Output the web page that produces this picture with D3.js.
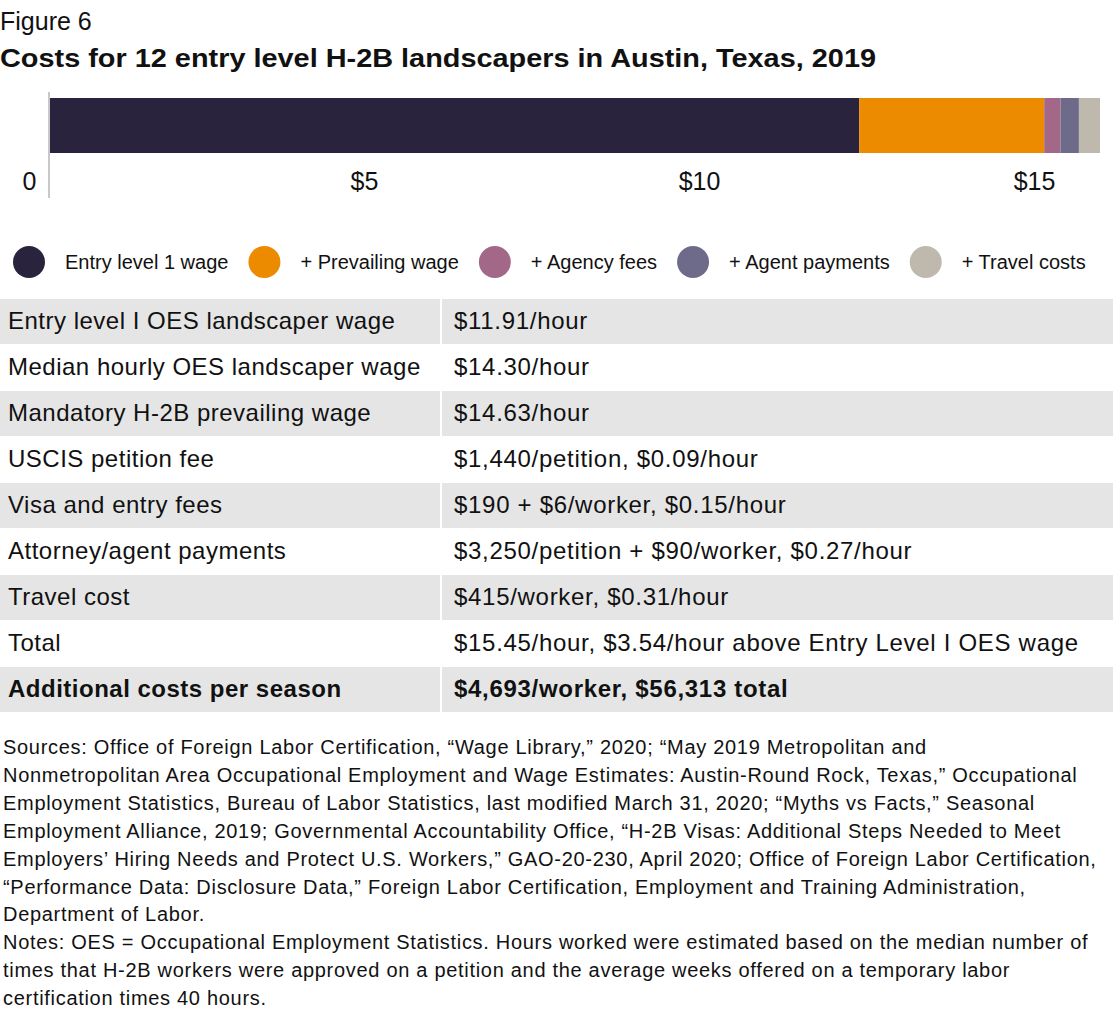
<!DOCTYPE html>
<html>
<head>
<meta charset="utf-8">
<script src="https://cdn.jsdelivr.net/npm/d3@7"></script>
<style>
  html, body { margin: 0; padding: 0; background: #fff; }
  svg { display: block; font-family: "Liberation Sans", Arial, sans-serif; }
</style>
</head>
<body>
<svg id="chart" width="1120" height="1018"></svg>
<script>
// ---------- data ----------
const figureLabel = "Figure 6";
const title = "Costs for 12 entry level H-2B landscapers in Austin, Texas, 2019";

const segmentNames = ["Entry level 1 wage", "+ Prevailing wage", "+ Agency fees", "+ Agent payments", "+ Travel costs"];
const segmentValues = [11.91, 2.72, 0.24, 0.27, 0.31];   // $/hour, stacked
const segmentColors = ["#29233d", "#ec8a00", "#a36787", "#6e6a8a", "#bfb8ac"];

const tickValues = [0, 5, 10, 15];
const tickLabels = ["0", "$5", "$10", "$15"];

const tableLabels = [
  "Entry level I OES landscaper wage",
  "Median hourly OES landscaper wage",
  "Mandatory H-2B prevailing wage",
  "USCIS petition fee",
  "Visa and entry fees",
  "Attorney/agent payments",
  "Travel cost",
  "Total",
  "Additional costs per season"
];
const tableValues = [
  "$11.91/hour",
  "$14.30/hour",
  "$14.63/hour",
  "$1,440/petition, $0.09/hour",
  "$190 + $6/worker, $0.15/hour",
  "$3,250/petition + $90/worker, $0.27/hour",
  "$415/worker, $0.31/hour",
  "$15.45/hour, $3.54/hour above Entry Level I OES wage",
  "$4,693/worker, $56,313 total"
];

const noteLines = [
  "Sources: Office of Foreign Labor Certification, “Wage Library,” 2020; “May 2019 Metropolitan and",
  "Nonmetropolitan Area Occupational Employment and Wage Estimates: Austin-Round Rock, Texas,” Occupational",
  "Employment Statistics, Bureau of Labor Statistics, last modified March 31, 2020; “Myths vs Facts,” Seasonal",
  "Employment Alliance, 2019; Governmental Accountability Office, “H-2B Visas: Additional Steps Needed to Meet",
  "Employers’ Hiring Needs and Protect U.S. Workers,” GAO-20-230, April 2020; Office of Foreign Labor Certification,",
  "“Performance Data: Disclosure Data,” Foreign Labor Certification, Employment and Training Administration,",
  "Department of Labor.",
  "Notes: OES = Occupational Employment Statistics. Hours worked were estimated based on the median number of",
  "times that H-2B workers were approved on a petition and the average weeks offered on a temporary labor",
  "certification times 40 hours."
];

// ---------- drawing ----------
const svg = d3.select("#chart");
const textColor = "#111";

svg.append("text").attr("x", 0).attr("y", 30)
  .attr("font-size", 25).attr("fill", textColor).text(figureLabel);

svg.append("text").attr("x", 0).attr("y", 67)
  .attr("font-size", 26).attr("font-weight", "bold").attr("fill", textColor)
  .attr("textLength", 876).attr("lengthAdjust", "spacingAndGlyphs")
  .text(title);

// stacked bar
const total = d3.sum(segmentValues);
const x = d3.scaleLinear().domain([0, total]).range([49, 1100]);
const stacked = [];
let acc = 0;
segmentValues.forEach((v, i) => { stacked.push({ name: segmentNames[i], x0: acc, x1: acc + v, color: segmentColors[i] }); acc += v; });

const barTop = 98, barH = 55;
svg.append("g").selectAll("rect").data(stacked).join("rect")
  .attr("x", d => x(d.x0))
  .attr("y", barTop)
  .attr("width", d => x(d.x1) - x(d.x0))
  .attr("height", barH)
  .attr("fill", d => d.color);

// zero line
svg.append("line")
  .attr("x1", x(0)).attr("x2", x(0))
  .attr("y1", 92).attr("y2", 198)
  .attr("stroke", "#c8c8c8").attr("stroke-width", 2);

// tick labels (as placed in the reference)
const tickScale = d3.scaleLinear().domain([0, 15]).range([29, 1034]);
const axis = d3.axisBottom(tickScale)
  .tickValues(tickValues)
  .tickSize(0)
  .tickPadding(0)
  .tickFormat((d, i) => tickLabels[i]);
const axisG = svg.append("g").attr("transform", "translate(0,172)").call(axis);
axisG.select(".domain").remove();
axisG.selectAll("text")
  .attr("font-size", 25)
  .attr("font-family", "Liberation Sans, Arial, sans-serif")
  .attr("fill", textColor)
  .attr("dy", "0.71em");

// legend (flow layout)
const legend = svg.append("g");
let lx = 13;
segmentNames.forEach((name, i) => {
  const cx = lx + 16;
  legend.append("circle").attr("cx", cx).attr("cy", 262).attr("r", 16).attr("fill", segmentColors[i]);
  const t = legend.append("text").attr("x", cx + 36).attr("y", 269)
    .attr("font-size", 20).attr("fill", textColor).text(name);
  const w = t.node().getComputedTextLength();
  lx = cx + 36 + w + 20;
});

// table
const rowTop = 299, rowH = 46, colSplit = 440, tableRight = 1113;
const rows = svg.append("g").selectAll("g").data(tableLabels).join("g")
  .attr("transform", (d, i) => `translate(0,${rowTop + i * rowH})`);

rows.filter((d, i) => i % 2 === 0).each(function () {
  const g = d3.select(this);
  g.append("rect").attr("x", 0).attr("y", 0).attr("width", colSplit).attr("height", rowH - 1).attr("fill", "#e5e5e5");
  g.append("rect").attr("x", colSplit + 2).attr("y", 0).attr("width", tableRight - colSplit - 2).attr("height", rowH - 1).attr("fill", "#e5e5e5");
});

rows.append("text")
  .attr("x", 8).attr("y", 30)
  .attr("font-size", 24)
  .attr("letter-spacing", 0.5)
  .attr("font-weight", (d, i) => i === tableLabels.length - 1 ? "bold" : "normal")
  .attr("fill", textColor)
  .text(d => d);

rows.append("text")
  .attr("x", 454).attr("y", 30)
  .attr("font-size", 24)
  .attr("letter-spacing", 0.7)
  .attr("font-weight", (d, i) => i === tableLabels.length - 1 ? "bold" : "normal")
  .attr("fill", textColor)
  .text((d, i) => tableValues[i]);

// notes
svg.append("g").selectAll("text").data(noteLines).join("text")
  .attr("x", 3)
  .attr("y", (d, i) => 754 + i * 27.9)
  .attr("font-size", 20)
  .attr("letter-spacing", 0.7)
  .attr("fill", textColor)
  .text(d => d);
</script>
</body>
</html>
